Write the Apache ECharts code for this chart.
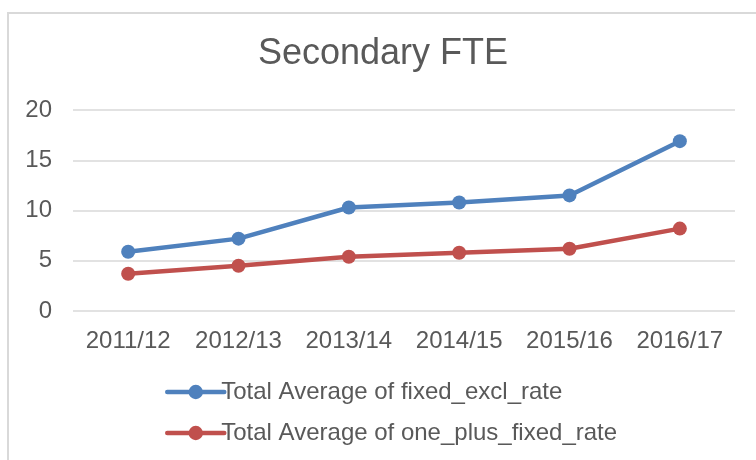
<!DOCTYPE html>
<html>
<head>
<meta charset="utf-8">
<script src="https://cdn.jsdelivr.net/npm/echarts@6/dist/echarts.min.js"></script>
<style>
  html, body { margin: 0; padding: 0; background: #fff; }
  #chart { width: 756px; height: 460px; }
</style>
</head>
<body>
<div id="chart"></div>
<script>
// values
const years = ['2011/12', '2012/13', '2013/14', '2014/15', '2015/16', '2016/17']
const fixedExclRate = [5.9, 7.2, 10.3, 10.8, 11.5, 16.9]
const onePlusFixedRate = [3.7, 4.5, 5.4, 5.8, 6.2, 8.2]
const seriesNames = ['Total Average of fixed_excl_rate', 'Total Average of one_plus_fixed_rate']

const textColor = '#595959'
const font = 'Liberation Sans, Arial, sans-serif'

let chart = echarts.init(document.getElementById('chart'), null, { renderer: 'canvas' })

chart.setOption({
  animation: false,
  title: {
    text: 'Secondary FTE',
    left: 253,
    top: 31,
    textStyle: { color: textColor, fontFamily: font, fontSize: 36, fontWeight: 'normal' }
  },
  // chart area border (cut off on the right and bottom)
  graphic: [{
    type: 'rect',
    shape: { x: 8, y: 13, width: 800, height: 500 },
    style: { fill: null, stroke: '#d9d9d9', lineWidth: 2 },
    silent: true
  }],
  grid: { left: 73, right: 21, top: 110, bottom: 149 },
  xAxis: {
    type: 'category',
    data: years,
    axisLine: { show: false },
    axisTick: { show: false },
    axisLabel: { color: textColor, fontFamily: font, fontSize: 24, margin: 18, interval: 0 }
  },
  yAxis: {
    type: 'value',
    min: 0,
    max: 20,
    interval: 5,
    axisLine: { show: false },
    axisTick: { show: false },
    axisLabel: { color: textColor, fontFamily: font, fontSize: 24, margin: 21 },
    splitLine: { lineStyle: { color: '#d9d9d9', width: 1.5 } }
  },
  legend: {
    orient: 'vertical',
    left: 160,
    top: 375,
    itemWidth: 57,
    itemHeight: 18,
    itemGap: 17,
    lineStyle: { width: 4.5, cap: 'round' },
    textStyle: { color: textColor, fontFamily: font, fontSize: 24, padding: [0, 0, 0, -8] },
    data: seriesNames
  },
  series: [
    {
      name: seriesNames[0],
      type: 'line',
      data: fixedExclRate,
      symbol: 'circle',
      symbolSize: 14,
      lineStyle: { width: 4.5, color: '#4f81bd', cap: 'round' },
      itemStyle: { color: '#4f81bd' }
    },
    {
      name: seriesNames[1],
      type: 'line',
      data: onePlusFixedRate,
      symbol: 'circle',
      symbolSize: 14,
      lineStyle: { width: 4.5, color: '#c0504d', cap: 'round' },
      itemStyle: { color: '#c0504d' }
    }
  ]
})
</script>
</body>
</html>
